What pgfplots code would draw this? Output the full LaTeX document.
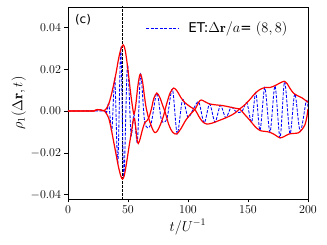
\documentclass[border=0pt]{standalone}
\usepackage{fontspec}
\usepackage{pgfplots}
\pgfplotsset{compat=1.18}
\newfontfamily\djv{DejaVu Sans}
\begin{document}
\begin{tikzpicture}
\begin{axis}[
 at={(0,0)}, anchor=south west,
 scale only axis, width=240pt, height=192pt,
 xmin=0,xmax=200,ymin=-0.042,ymax=0.0497,
 xtick={0,50,100,150,200},
 ytick={-0.04,-0.02,0,0.02,0.04},
 yticklabel style={/pgf/number format/fixed,/pgf/number format/fixed zerofill,/pgf/number format/precision=2},
 scaled y ticks=false,
 tick align=outside, xtick pos=bottom, ytick pos=left,
 major tick length=3.5pt,
 tick label style={font=\fontsize{13}{13}\selectfont},
 label style={font=\fontsize{14.5}{15}\selectfont},
 xlabel={$t/U^{-1}$},
 ylabel={$\rho_1(\Delta\mathbf{r},t)$},
 xlabel style={at={(axis description cs:0.5,-0.146)},anchor=center},
 ylabel style={at={(axis description cs:-0.205,0.5)},anchor=center},
 legend style={draw=none,fill=none,at={(axis description cs:0.31,0.89)},anchor=west,font=\fontsize{13.5}{14}\selectfont,
   /tikz/every odd column/.append style={column sep=8pt}},
 legend image code/.code={\draw[#1] (0pt,0pt) -- (32pt,0pt);},
 axis line style={line width=0.9pt},
 every tick/.style={black,line width=0.8pt},
]
\addplot[black, dash pattern=on 2.5pt off 1.5pt, line width=0.7pt, forget plot] coordinates {(45,-0.05) (45,0.06)};
\addplot[blue, smooth, dash pattern=on 3pt off 1.5pt, line width=0.85pt] coordinates {
(0,0) (30,0) (32,-0.0012) (34,0.0035) (36.5,-0.0095) (39,0.0155) (41.5,-0.025) (44,0.0295) (46.5,-0.0315) (49.5,0.022) (52.5,-0.011) (55,-0.0015) (57.8,-0.0145) (60.5,0.0176) (64,-0.0055) (69,-0.0065) (74,0.0086) (78,-0.0045) (82.5,-0.0035) (87,0.0105) (91,-0.0108) (95.5,0.0055) (100,-0.003) (104.5,0.001) (109,0.0043) (113.5,-0.0057) (118,0.0034) (122.5,-0.0053) (127,0.0027) (131.5,-0.0032) (136,0.0018) (140.5,-0.0005) (145,-0.0002) (149,0.0040) (153,-0.0054) (156.5,0.0088) (160,-0.0093) (164,0.0112) (168.3,-0.0101) (172.5,0.0120) (176.7,-0.0128) (180.5,0.0140) (185,-0.0109) (189,0.0082) (193.5,-0.0097) (198.5,0.0048) (200,0.002)
};
\addlegendentry{{\djv ET:}$\Delta\mathbf{r}/a${\djv =} $(8,8)$}
\addplot[red, smooth, line width=1.2pt, forget plot] coordinates {
(0,0) (20,0) (22,0.0002) (24.5,0.0007) (27,0.0006) (29,0.0002) (30.5,0.0003) (32,0.0012) (34,0.0035) (36,0.0075) (38,0.0125) (40,0.018) (42,0.0245) (44,0.0295) (46,0.0316) (47.5,0.0295) (49,0.024) (50.5,0.017) (52,0.0095) (53.5,0.003) (55,-0.0015) (56.5,0.003) (58,0.011) (59.5,0.0165) (60.5,0.0176) (62,0.0145) (63.5,0.008) (65,0.002) (67,-0.003) (69,-0.0065) (71,-0.0093) (72.5,-0.0103) (74.5,-0.0095) (77,-0.0065) (79.5,-0.0025) (82,0.003) (85,0.0085) (88,0.011) (91,0.0095) (94,0.0065) (97.5,0.004) (102,0.002) (106,0.0005) (109,-0.0025) (112,-0.005) (115.5,-0.0062) (120,-0.0058) (125,-0.0047) (130,-0.0036) (135,-0.0023) (139,-0.001) (143,0.001) (147,0.0028) (152,0.0058) (156,0.0085) (160,0.0103) (164,0.0112) (168,0.0112) (172,0.0120) (176,0.0132) (180,0.0142) (182.5,0.0132) (185,0.0108) (188,0.0085) (191,0.0074) (195,0.0063) (200,0.0042)
};
\addplot[red, smooth, line width=1.2pt, forget plot] coordinates {
(0,0) (20,0) (22,0.0002) (24.5,0.0007) (27,0.0006) (29,0.0002) (30.5,0) (32,-0.0012) (34,-0.0035) (36,-0.0085) (38,-0.0145) (40,-0.0205) (42,-0.0265) (44,-0.031) (45.5,-0.0325) (47,-0.0305) (49,-0.024) (51,-0.0165) (53,-0.0095) (54.5,-0.004) (55.5,-0.004) (56.5,-0.008) (57.5,-0.0135) (58.5,-0.0155) (60,-0.0135) (62,-0.009) (64,-0.0055) (66,-0.0045) (67.5,-0.003) (69.5,0.001) (71.5,0.006) (74,0.0086) (76.5,0.0065) (79,0.0025) (81,-0.0006) (84,-0.0065) (87,-0.0100) (90.5,-0.011) (94,-0.0085) (98,-0.0045) (102,-0.0015) (106,0.001) (109,0.0043) (111,0.0053) (114,0.0045) (118,0.0034) (124,0.0029) (129,0.0026) (135,0.0019) (140,0.0013) (143,0.001) (147,-0.0015) (152,-0.0047) (156,-0.0075) (160,-0.0093) (164,-0.0097) (168,-0.0101) (172,-0.0112) (176.5,-0.0128) (180,-0.0122) (184,-0.011) (188,-0.0107) (192,-0.0104) (195,-0.0088) (197.5,-0.0065) (199,-0.003) (200,0.001)
};
\node[font=\djv\fontsize{12}{12}\selectfont] at (axis description cs:0.0625,0.935) {(c)};
\end{axis}
\pgfresetboundingbox
\path[use as bounding box] (-68pt,-46pt) rectangle (259pt,199pt);
\end{tikzpicture}
\end{document}
